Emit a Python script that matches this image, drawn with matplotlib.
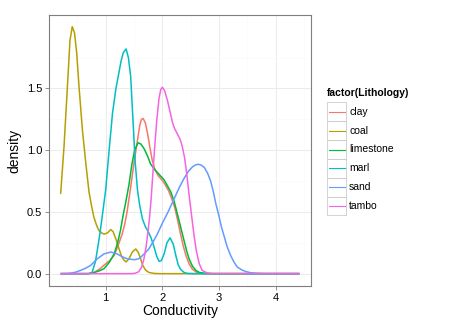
import matplotlib.pyplot as plt
from matplotlib.patches import Rectangle

plt.rcParams['font.family'] = ['Liberation Sans', 'DejaVu Sans']

# density curves (x = Conductivity, y = density)
lithology = ['clay', 'coal', 'limestone', 'marl', 'sand', 'tambo']
colors = ['#F8766D', '#B79F00', '#00BA38', '#00BFC4', '#619CFF', '#F564E3']

clay_x = [0.21, 0.7, 0.8, 0.9, 1.0, 1.08, 1.15, 1.22, 1.29, 1.34, 1.38, 1.44, 1.5, 1.55,
          1.6, 1.63, 1.66, 1.7, 1.74, 1.78, 1.82, 1.87, 1.93, 1.99, 2.05, 2.11, 2.17, 2.22,
          2.27, 2.32, 2.37, 2.42, 2.47, 2.53, 2.6, 2.7, 2.8, 4.41]
clay_y = [0.0, 0.0, 0.01, 0.04, 0.08, 0.11, 0.15, 0.23, 0.32, 0.41, 0.51, 0.7, 0.9, 1.05,
          1.2, 1.25, 1.257, 1.22, 1.13, 1.02, 0.92, 0.84, 0.79, 0.76, 0.72, 0.67, 0.6, 0.53,
          0.43, 0.32, 0.22, 0.14, 0.08, 0.035, 0.012, 0.002, 0.0, 0.0]

coal_x = [0.206, 0.265, 0.324, 0.37, 0.41, 0.45, 0.49, 0.53, 0.59, 0.65, 0.706, 0.75, 0.79,
          0.84, 0.88, 0.93, 0.97, 1.03, 1.09, 1.13, 1.18, 1.235, 1.28, 1.32, 1.36, 1.41,
          1.47, 1.53, 1.57, 1.61, 1.65, 1.7, 1.76, 1.85, 1.95, 4.41]
coal_y = [0.65, 1.03, 1.51, 1.89, 2.0, 1.95, 1.78, 1.51, 1.16, 0.89, 0.66, 0.55, 0.46,
          0.39, 0.35, 0.33, 0.32, 0.33, 0.357, 0.34, 0.28, 0.2, 0.14, 0.11, 0.095, 0.12,
          0.175, 0.2, 0.175, 0.13, 0.07, 0.03, 0.01, 0.002, 0.0, 0.0]

limestone_x = [0.21, 0.7, 0.8, 0.9, 0.97, 1.06, 1.15, 1.21, 1.26, 1.31, 1.35, 1.41, 1.46,
               1.51, 1.57, 1.62, 1.68, 1.74, 1.79, 1.85, 1.91, 1.97, 2.03, 2.09, 2.15, 2.21,
               2.26, 2.32, 2.38, 2.43, 2.47, 2.53, 2.59, 2.65, 2.75, 2.85, 4.41]
limestone_y = [0.0, 0.0, 0.01, 0.025, 0.04, 0.09, 0.16, 0.25, 0.35, 0.48, 0.57, 0.72, 0.88,
               1.0, 1.06, 1.05, 1.01, 0.95, 0.89, 0.85, 0.82, 0.79, 0.76, 0.71, 0.66, 0.58,
               0.49, 0.38, 0.27, 0.18, 0.12, 0.06, 0.027, 0.01, 0.002, 0.0, 0.0]

marl_x = [0.21, 0.7, 0.76, 0.82, 0.88, 0.92, 0.96, 1.0, 1.06, 1.12, 1.18, 1.23, 1.27, 1.31,
          1.36, 1.4, 1.44, 1.48, 1.52, 1.56, 1.6, 1.65, 1.7, 1.75, 1.8, 1.85, 1.9, 1.94,
          1.98, 2.03, 2.08, 2.135, 2.19, 2.24, 2.28, 2.32, 2.38, 2.44, 2.55, 4.41]
marl_y = [0.0, 0.0, 0.01, 0.1, 0.27, 0.4, 0.54, 0.68, 1.0, 1.3, 1.5, 1.62, 1.72, 1.79,
          1.82, 1.75, 1.6, 1.25, 0.9, 0.68, 0.55, 0.44, 0.38, 0.34, 0.29, 0.22, 0.14, 0.1,
          0.105, 0.16, 0.25, 0.29, 0.24, 0.14, 0.07, 0.035, 0.01, 0.002, 0.0, 0.0]

sand_x = [0.21, 0.32, 0.38, 0.47, 0.56, 0.65, 0.735, 0.85, 0.97, 1.09, 1.2, 1.3, 1.38, 1.5,
          1.58, 1.62, 1.69, 1.76, 1.85, 1.91, 2.0, 2.1, 2.2, 2.3, 2.38, 2.46, 2.53, 2.58,
          2.63, 2.68, 2.74, 2.8, 2.85, 2.9, 2.94, 2.99, 3.04, 3.09, 3.14, 3.2, 3.26, 3.32,
          3.4, 3.47, 3.55, 3.65, 3.8, 4.41]
sand_y = [0.0, 0.001, 0.004, 0.012, 0.027, 0.045, 0.067, 0.12, 0.16, 0.175, 0.16, 0.135,
          0.12, 0.113, 0.12, 0.135, 0.165, 0.2, 0.27, 0.32, 0.41, 0.5, 0.6, 0.7, 0.77, 0.83,
          0.865, 0.88, 0.886, 0.88, 0.86, 0.81, 0.75, 0.66, 0.57, 0.48, 0.38, 0.3, 0.22,
          0.15, 0.095, 0.054, 0.03, 0.017, 0.008, 0.003, 0.0, 0.0]

tambo_x = [0.21, 1.45, 1.52, 1.58, 1.63, 1.67, 1.71, 1.74, 1.77, 1.8, 1.83, 1.86, 1.9,
           1.94, 1.97, 2.0, 2.04, 2.09, 2.14, 2.18, 2.22, 2.26, 2.31, 2.35, 2.39, 2.42,
           2.45, 2.48, 2.52, 2.56, 2.6, 2.65, 2.7, 2.79, 2.9, 4.41]
tambo_y = [0.0, 0.0, 0.003, 0.015, 0.05, 0.11, 0.21, 0.32, 0.44, 0.6, 0.8, 1.0, 1.24,
           1.42, 1.49, 1.51, 1.48, 1.4, 1.3, 1.22, 1.17, 1.135, 1.09, 1.03, 0.94, 0.84,
           0.72, 0.6, 0.45, 0.3, 0.18, 0.08, 0.027, 0.005, 0.0, 0.0]

curves = [(clay_x, clay_y), (coal_x, coal_y), (limestone_x, limestone_y),
          (marl_x, marl_y), (sand_x, sand_y), (tambo_x, tambo_y)]

x_ticks = [1, 2, 3, 4]
y_ticks = [0.0, 0.5, 1.0, 1.5]

fig = plt.figure(figsize=(4.61, 3.27), dpi=100)
ax = fig.add_axes([49 / 461, 1 - 286 / 327, 262 / 461, 271 / 327])

for (xs, ys), c in zip(curves, colors):
    ax.plot(xs, ys, color=c, lw=1.1, solid_joinstyle='round', solid_capstyle='round')

ax.set_xlim(0.0, 4.62)
ax.set_ylim(-0.1, 2.095)
ax.set_xticks(x_ticks)
ax.set_xticklabels([str(t) for t in x_ticks])
ax.set_yticks(y_ticks)
ax.set_yticklabels(['%.1f' % t for t in y_ticks])
ax.set_xticks([0.5, 1.5, 2.5, 3.5, 4.5], minor=True)
ax.set_yticks([0.25, 0.75, 1.25, 1.75], minor=True)
ax.grid(True, which='major', color='#EBEBEB', lw=0.7)
ax.grid(True, which='minor', color='#FAFAFA', lw=0.5)
ax.set_axisbelow(True)
ax.tick_params(which='minor', length=0)
ax.tick_params(which='major', length=3, color='#7F7F7F', width=0.6,
               labelsize=8, labelcolor='black', pad=2)
for s in ax.spines.values():
    s.set_color('#7F7F7F')
    s.set_linewidth(0.8)

ax.set_xlabel('Conductivity', fontsize=10, labelpad=1)
ax.set_ylabel('density', fontsize=10, labelpad=4)

# legend drawn in pixel coordinates
lax = fig.add_axes([0, 0, 1, 1])
lax.set_xlim(0, 461)
lax.set_ylim(327, 0)
lax.axis('off')
lax.text(327, 92.5, 'factor(Lithology)', fontsize=7.5, fontweight='bold',
         va='center', ha='left')
for i, (name, c) in enumerate(zip(lithology, colors)):
    yc = 111.7 + i * 18.9
    lax.add_patch(Rectangle((327, yc - 9.3), 19, 18.6, fill=False,
                            edgecolor='#CCCCCC', lw=0.6))
    lax.plot([328.5, 344.5], [yc, yc], color=c, lw=0.8)
    lax.text(349, yc, name, fontsize=7.5, va='center', ha='left')

fig.savefig('out.png', dpi=100)
